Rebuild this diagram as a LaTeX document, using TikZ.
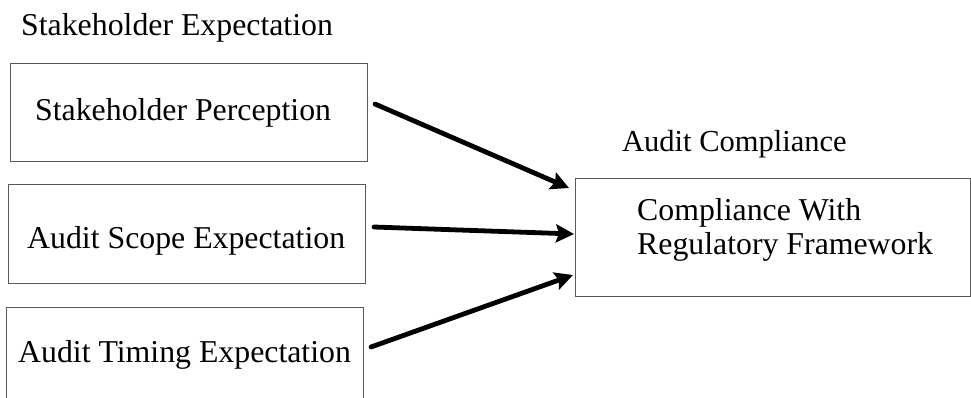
\documentclass[tikz,border=0pt]{standalone}
\usepackage{fontspec}
\setmainfont{Liberation Serif}
\usetikzlibrary{arrows.meta}
\begin{document}
\begin{tikzpicture}[x=1pt,y=-1pt,
  lbl/.style={font=\fontsize{31.8}{34}\selectfont, inner sep=0pt, anchor=base west},
  boxx/.style={draw=black!65, line width=1.1pt, inner sep=0pt, anchor=north west},
  arr/.style={line width=4.8pt, -{Stealth[length=18pt,width=18pt,inset=3pt]}, line cap=round}]
\useasboundingbox (0,0) rectangle (971,397);
% boxes
\node[boxx, minimum width=357pt, minimum height=98pt] (b1) at (10,63) {};
\node[boxx, minimum width=357pt, minimum height=99pt] (b2) at (8,184) {};
\node[boxx, minimum width=357pt, minimum height=110pt] (b3) at (6,307) {};
\node[boxx, minimum width=395pt, minimum height=118pt] (b4) at (575,178) {};
% texts
\node[lbl] (t0) at (21,35) {Stakeholder Expectation};
\node[lbl] (t1) at (35,120) {Stakeholder Perception};
\node[lbl] (t2) at (27,248) {Audit Scope Expectation};
\node[lbl] (t3) at (18,362) {Audit Timing Expectation};
\node[lbl, font=\fontsize{30.5}{34}\selectfont] (t4) at (622,151) {Audit Compliance};
\node[lbl] (t5) at (637,220) {Compliance With};
\node[lbl] (t6) at (637,254) {Regulatory Framework};
% connector ends
\coordinate (s1) at (375,104);
\coordinate (s2) at (374,227);
\coordinate (s3) at (371,347);
\coordinate (e1) at (569,188);
\coordinate (e2) at (574,234);
\coordinate (e3) at (573,275);
\draw[arr] (s1) -- (e1);
\draw[arr] (s2) -- (e2);
\draw[arr] (s3) -- (e3);
\end{tikzpicture}
\end{document}
